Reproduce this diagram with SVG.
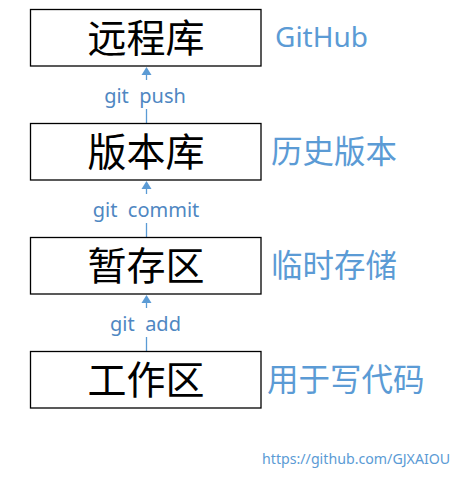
<svg xmlns="http://www.w3.org/2000/svg" width="466" height="478" viewBox="0 0 466 478">
<style>
.box{fill:#fff;stroke:#000;stroke-width:1.3}
.nt{font-family:"Noto Sans CJK SC","Noto Sans",sans-serif;font-size:39px;fill:#000;text-anchor:middle}
.side{font-family:"Noto Sans CJK SC","Noto Sans",sans-serif;font-size:31.5px;fill:#5B9BD5}
.gh{font-family:"Noto Sans","Open Sans",sans-serif;font-size:28px;fill:#5B9BD5}
.cmd{font-family:"Noto Sans","Open Sans",sans-serif;font-size:20px;fill:#4F87C2;text-anchor:middle;white-space:pre}
.ln{stroke:#5B9BD5;stroke-width:1.3;fill:none}
.url{font-family:"Noto Sans","Open Sans",sans-serif;font-size:14.2px;fill:#5B9BD5}
</style>
<rect width="466" height="478" fill="#fff"/>
<g id="connectors">
<polygon points="146.5,67 141.5,75 151.5,75" fill="#5B9BD5"/>
<line class="ln" x1="146.5" y1="75" x2="146.5" y2="80"/>
<line class="ln" x1="146.5" y1="109" x2="146.5" y2="123.5"/>
<text class="cmd" x="145" y="103" xml:space="preserve">git  push</text>
<polygon points="146.5,181 141.5,189 151.5,189" fill="#5B9BD5"/>
<line class="ln" x1="146.5" y1="189" x2="146.5" y2="194"/>
<line class="ln" x1="146.5" y1="223" x2="146.5" y2="237.5"/>
<text class="cmd" x="146" y="217" xml:space="preserve">git  commit</text>
<polygon points="146.5,295 141.5,303 151.5,303" fill="#5B9BD5"/>
<line class="ln" x1="146.5" y1="303" x2="146.5" y2="308"/>
<line class="ln" x1="146.5" y1="337" x2="146.5" y2="351.5"/>
<text class="cmd" x="145.5" y="331" xml:space="preserve">git  add</text>
</g>
<g id="remote">
<rect class="box" x="30.5" y="9.5" width="230.5" height="56.5"/>
<text class="nt" x="146" y="52">远程库</text>
<text class="gh" x="275" y="47">GitHub</text>
</g>
<g id="repo">
<rect class="box" x="30.5" y="123.5" width="230.5" height="56.5"/>
<text class="nt" x="146" y="166">版本库</text>
<text class="side" x="271" y="163">历史版本</text>
</g>
<g id="stage">
<rect class="box" x="30.5" y="237.5" width="230.5" height="56.5"/>
<text class="nt" x="146" y="280">暂存区</text>
<text class="side" x="271" y="277">临时存储</text>
</g>
<g id="work">
<rect class="box" x="30.5" y="351.5" width="230.5" height="56.5"/>
<text class="nt" x="146" y="394">工作区</text>
<text class="side" x="267" y="391">用于写代码</text>
</g>
<text class="url" x="262" y="464">https://github.com/GJXAIOU</text>
</svg>
